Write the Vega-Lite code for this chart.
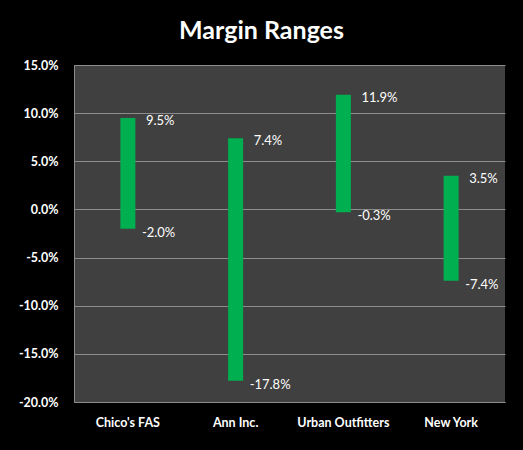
{
  "$schema": "https://vega.github.io/schema/vega-lite/v6.json",
  "autosize": {"type": "none"},
  "width": 431,
  "height": 337,
  "padding": {"left": 74, "top": 65, "right": 18, "bottom": 48},
  "background": "#000000",
  "title": {
    "text": "Margin Ranges",
    "font": "Lato",
    "fontSize": 25,
    "fontWeight": "bold",
    "color": "#ffffff",
    "anchor": "middle",
    "dx": -28,
    "offset": 15
  },
  "config": {
    "locale": {
      "number": {"decimal": ".", "thousands": ",", "grouping": [3], "currency": ["$", ""], "minus": "-"}
    },
    "view": {"fill": "#404040", "stroke": null},
    "axis": {
      "labelFont": "Lato",
      "labelFontWeight": "bold",
      "labelFontSize": 12.5,
      "labelColor": "#ffffff",
      "ticks": false,
      "title": null,
      "domainColor": "#8c8c8c",
      "gridColor": "#8c8c8c",
      "gridWidth": 1
    }
  },
  "data": {
    "values": [
      {"company": "Chico's FAS", "low": -0.020, "high": 0.095},
      {"company": "Ann Inc.", "low": -0.178, "high": 0.074},
      {"company": "Urban Outfitters", "low": -0.003, "high": 0.119},
      {"company": "New York", "low": -0.074, "high": 0.035}
    ]
  },
  "encoding": {
    "x": {
      "field": "company",
      "type": "nominal",
      "sort": null,
      "scale": {"paddingInner": 0, "paddingOuter": 0},
      "axis": {"labelAngle": 0, "labelPadding": 14, "grid": false}
    }
  },
  "layer": [
    {
      "mark": {"type": "bar", "width": 15, "color": "#00b050"},
      "encoding": {
        "y": {
          "field": "high",
          "type": "quantitative",
          "scale": {"domain": [-0.2, 0.15], "nice": false},
          "axis": {"values": [-0.2, -0.15, -0.1, -0.05, 0, 0.05, 0.1, 0.15], "format": ".1%", "labelPadding": 16, "grid": true}
        },
        "y2": {"field": "low"}
      }
    },
    {
      "mark": {"type": "text", "align": "left", "baseline": "middle", "dx": 18, "dy": 3, "font": "Lato", "fontSize": 13, "color": "#ffffff"},
      "encoding": {
        "y": {"field": "high", "type": "quantitative"},
        "text": {"field": "high", "type": "quantitative", "format": ".1%"}
      }
    },
    {
      "mark": {"type": "text", "align": "left", "baseline": "middle", "dx": 14, "dy": 4, "font": "Lato", "fontSize": 13, "color": "#ffffff"},
      "encoding": {
        "y": {"field": "low", "type": "quantitative"},
        "text": {"field": "low", "type": "quantitative", "format": ".1%"}
      }
    }
  ]
}
